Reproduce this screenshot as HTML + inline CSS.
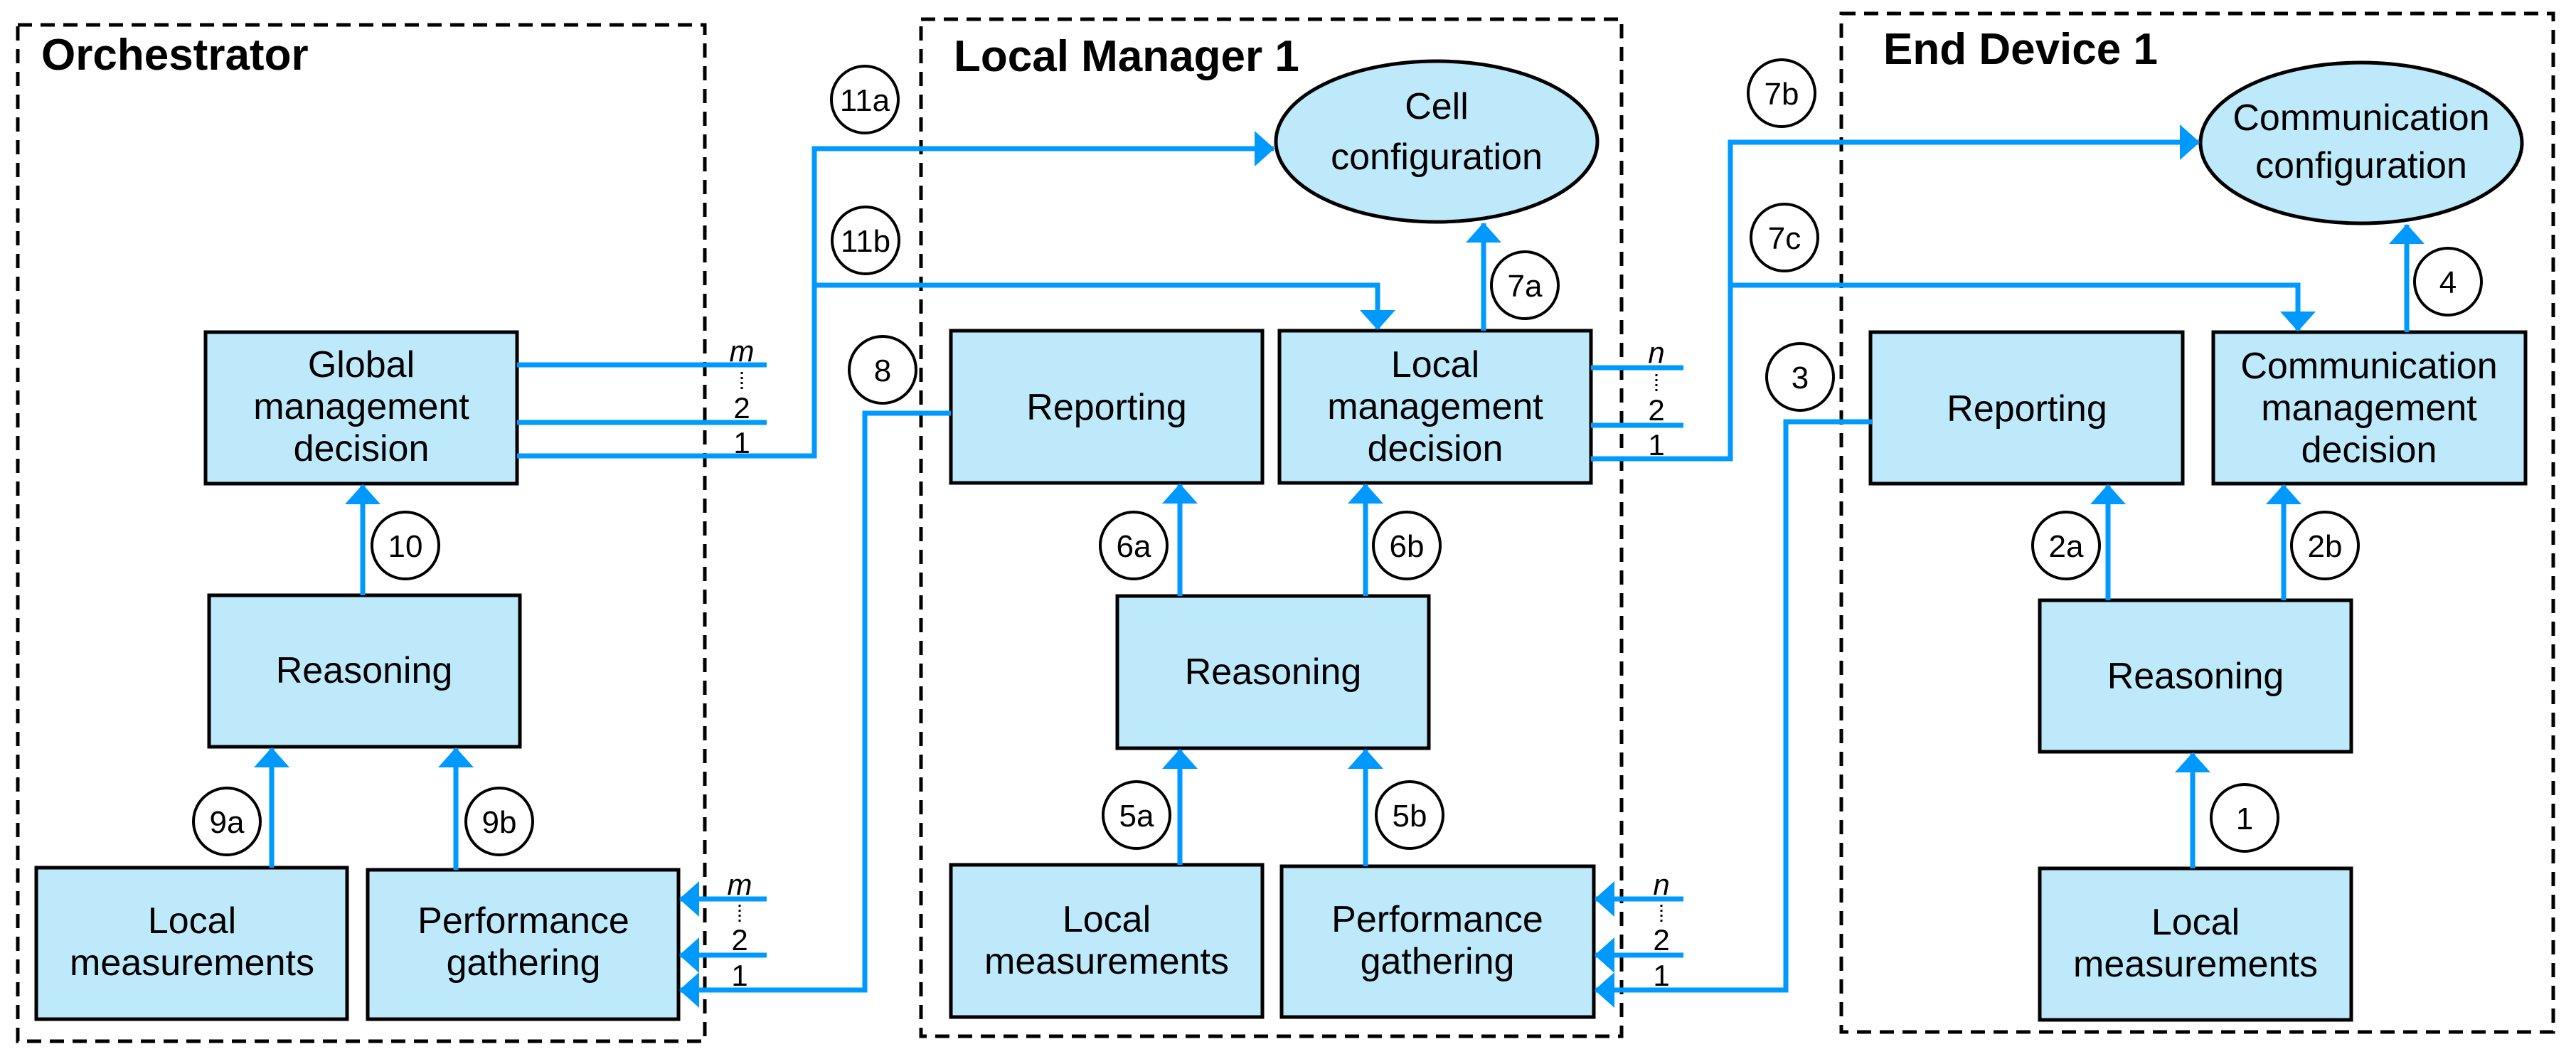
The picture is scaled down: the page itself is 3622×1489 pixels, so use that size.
<!DOCTYPE html>
<html><head><meta charset="utf-8"><style>
html,body{margin:0;padding:0;background:#fff;}
svg{display:block;}
text{font-family:"Liberation Sans",sans-serif;}
.box{fill:#bde9fb;stroke:#000;stroke-width:5;}
.dash{fill:none;stroke:#000;stroke-width:5;stroke-dasharray:20 12;}
.bl{fill:none;stroke:#0099ff;stroke-width:7;}
.c{fill:#fff;stroke:#000;stroke-width:4;}
.bt{font-size:52px;text-anchor:middle;fill:#000;}
.ct{font-size:44px;text-anchor:middle;fill:#000;}
.lb{font-size:42px;text-anchor:middle;fill:#000;}
.ti{font-size:62px;font-weight:bold;fill:#000;}
</style></head><body>
<svg width="3622" height="1489" viewBox="0 0 3622 1489" xmlns="http://www.w3.org/2000/svg">
<defs>
<marker id="a" viewBox="0 0 28 50" refX="27" refY="25" markerWidth="28" markerHeight="50" orient="auto" markerUnits="userSpaceOnUse">
<path d="M0,0 L28,25 L0,50 Z" fill="#0099ff"/></marker>
</defs>

<!-- dashed containers -->
<rect class="dash" x="25" y="35" width="966" height="1429"/>
<rect class="dash" x="1295" y="27" width="985" height="1430"/>
<rect class="dash" x="2589" y="19" width="1001" height="1432"/>
<text class="ti" x="58" y="98">Orchestrator</text>
<text class="ti" x="1341" y="100">Local Manager 1</text>
<text class="ti" x="2648" y="90">End Device 1</text>

<!-- Orchestrator boxes -->
<rect class="box" x="289" y="467" width="438" height="213"/>
<text class="bt" x="508" y="530">Global</text>
<text class="bt" x="508" y="589">management</text>
<text class="bt" x="508" y="648">decision</text>
<rect class="box" x="294" y="837" width="437" height="213"/>
<text class="bt" x="512" y="960">Reasoning</text>
<rect class="box" x="51" y="1220" width="437" height="213"/>
<text class="bt" x="270" y="1312">Local</text>
<text class="bt" x="270" y="1371">measurements</text>
<rect class="box" x="517" y="1223" width="437" height="210"/>
<text class="bt" x="736" y="1312">Performance</text>
<text class="bt" x="736" y="1371">gathering</text>

<!-- Local Manager boxes -->
<ellipse class="box" cx="2020" cy="199" rx="226" ry="113"/>
<text class="bt" x="2020" y="167">Cell</text>
<text class="bt" x="2020" y="238">configuration</text>
<rect class="box" x="1337" y="465" width="438" height="214"/>
<text class="bt" x="1556" y="590">Reporting</text>
<rect class="box" x="1799" y="465" width="438" height="214"/>
<text class="bt" x="2018" y="530">Local</text>
<text class="bt" x="2018" y="589">management</text>
<text class="bt" x="2018" y="648">decision</text>
<rect class="box" x="1571" y="838" width="438" height="214"/>
<text class="bt" x="1790" y="962">Reasoning</text>
<rect class="box" x="1337" y="1216" width="438" height="214"/>
<text class="bt" x="1556" y="1310">Local</text>
<text class="bt" x="1556" y="1369">measurements</text>
<rect class="box" x="1802" y="1218" width="439" height="212"/>
<text class="bt" x="2021" y="1310">Performance</text>
<text class="bt" x="2021" y="1369">gathering</text>

<!-- End Device boxes -->
<ellipse class="box" cx="3320" cy="201" rx="226" ry="113"/>
<text class="bt" x="3320" y="183">Communication</text>
<text class="bt" x="3320" y="250">configuration</text>
<rect class="box" x="2630" y="467" width="439" height="213"/>
<text class="bt" x="2850" y="592">Reporting</text>
<rect class="box" x="3112" y="467" width="439" height="213"/>
<text class="bt" x="3331" y="532">Communication</text>
<text class="bt" x="3331" y="591">management</text>
<text class="bt" x="3331" y="650">decision</text>
<rect class="box" x="2868" y="844" width="438" height="213"/>
<text class="bt" x="3087" y="968">Reasoning</text>
<rect class="box" x="2868" y="1221" width="438" height="213"/>
<text class="bt" x="3087" y="1314">Local</text>
<text class="bt" x="3087" y="1373">measurements</text>

<!-- vertical internal arrows -->
<g class="bl">
<line x1="510" y1="837" x2="510" y2="682" marker-end="url(#a)"/>
<line x1="382" y1="1220" x2="382" y2="1052" marker-end="url(#a)"/>
<line x1="641" y1="1223" x2="641" y2="1052" marker-end="url(#a)"/>
<line x1="2086" y1="465" x2="2086" y2="314" marker-end="url(#a)"/>
<line x1="1659" y1="838" x2="1659" y2="681" marker-end="url(#a)"/>
<line x1="1920" y1="838" x2="1920" y2="681" marker-end="url(#a)"/>
<line x1="1659" y1="1216" x2="1659" y2="1054" marker-end="url(#a)"/>
<line x1="1920" y1="1218" x2="1920" y2="1054" marker-end="url(#a)"/>
<line x1="3384" y1="467" x2="3384" y2="316" marker-end="url(#a)"/>
<line x1="2964" y1="844" x2="2964" y2="682" marker-end="url(#a)"/>
<line x1="3211" y1="844" x2="3211" y2="682" marker-end="url(#a)"/>
<line x1="3083" y1="1221" x2="3083" y2="1059" marker-end="url(#a)"/>

<!-- orchestrator outputs -->
<line x1="727" y1="513" x2="1078" y2="513"/>
<line x1="727" y1="594" x2="1078" y2="594"/>
<polyline points="727,641 1145,641 1145,209 1791,209" marker-end="url(#a)"/>
<polyline points="1145,401 1937,401 1937,463" marker-end="url(#a)"/>
<!-- orchestrator inputs -->
<line x1="1078" y1="1264" x2="956" y2="1264" marker-end="url(#a)"/>
<line x1="1078" y1="1343" x2="956" y2="1343" marker-end="url(#a)"/>
<polyline points="1337,581 1216,581 1216,1392 956,1392" marker-end="url(#a)"/>

<!-- LM outputs -->
<line x1="2237" y1="517" x2="2367" y2="517"/>
<line x1="2237" y1="598" x2="2367" y2="598"/>
<polyline points="2237,645 2433,645 2433,200 3092,200" marker-end="url(#a)"/>
<polyline points="2433,401 3231,401 3231,465" marker-end="url(#a)"/>
<!-- LM inputs -->
<line x1="2367" y1="1264" x2="2243" y2="1264" marker-end="url(#a)"/>
<line x1="2367" y1="1343" x2="2243" y2="1343" marker-end="url(#a)"/>
<polyline points="2632,593 2511,593 2511,1392 2243,1392" marker-end="url(#a)"/>
</g>

<!-- m/n labels -->
<g>
<text class="lb" x="1043" y="508" style="font-style:italic">m</text>
<line x1="1043" y1="523" x2="1043" y2="548" stroke="#000" stroke-width="3" stroke-dasharray="3 4"/>
<text class="lb" x="1043" y="588">2</text>
<text class="lb" x="1043" y="637">1</text>
<text class="lb" x="1040" y="1258" style="font-style:italic">m</text>
<line x1="1040" y1="1272" x2="1040" y2="1297" stroke="#000" stroke-width="3" stroke-dasharray="3 4"/>
<text class="lb" x="1040" y="1336">2</text>
<text class="lb" x="1040" y="1386">1</text>
<text class="lb" x="2329" y="510" style="font-style:italic">n</text>
<line x1="2329" y1="526" x2="2329" y2="551" stroke="#000" stroke-width="3" stroke-dasharray="3 4"/>
<text class="lb" x="2329" y="591">2</text>
<text class="lb" x="2329" y="640">1</text>
<text class="lb" x="2336" y="1258" style="font-style:italic">n</text>
<line x1="2336" y1="1272" x2="2336" y2="1297" stroke="#000" stroke-width="3" stroke-dasharray="3 4"/>
<text class="lb" x="2336" y="1336">2</text>
<text class="lb" x="2336" y="1386">1</text>
</g>

<!-- circles -->
<g>
<ellipse class="c" cx="570" cy="767" rx="47" ry="47"/><text class="ct" x="570" y="783">10</text>
<ellipse class="c" cx="319" cy="1155" rx="47" ry="47"/><text class="ct" x="319" y="1171">9a</text>
<ellipse class="c" cx="702" cy="1155" rx="47" ry="47"/><text class="ct" x="702" y="1171">9b</text>
<ellipse class="c" cx="1216" cy="140" rx="47" ry="47"/><text class="ct" x="1216" y="156">11a</text>
<ellipse class="c" cx="1217" cy="338" rx="47" ry="47"/><text class="ct" x="1217" y="354">11b</text>
<ellipse class="c" cx="1241" cy="520" rx="47" ry="47"/><text class="ct" x="1241" y="536">8</text>
<ellipse class="c" cx="2144" cy="401" rx="47" ry="47"/><text class="ct" x="2144" y="417">7a</text>
<ellipse class="c" cx="1594" cy="767" rx="47" ry="47"/><text class="ct" x="1594" y="783">6a</text>
<ellipse class="c" cx="1978" cy="767" rx="47" ry="47"/><text class="ct" x="1978" y="783">6b</text>
<ellipse class="c" cx="1598" cy="1146" rx="47" ry="47"/><text class="ct" x="1598" y="1162">5a</text>
<ellipse class="c" cx="1982" cy="1146" rx="47" ry="47"/><text class="ct" x="1982" y="1162">5b</text>
<ellipse class="c" cx="2505" cy="131" rx="47" ry="47"/><text class="ct" x="2505" y="147">7b</text>
<ellipse class="c" cx="2509" cy="334" rx="47" ry="47"/><text class="ct" x="2509" y="350">7c</text>
<ellipse class="c" cx="2531" cy="530" rx="47" ry="47"/><text class="ct" x="2531" y="546">3</text>
<ellipse class="c" cx="3442" cy="396" rx="47" ry="47"/><text class="ct" x="3442" y="412">4</text>
<ellipse class="c" cx="2905" cy="767" rx="47" ry="47"/><text class="ct" x="2905" y="783">2a</text>
<ellipse class="c" cx="3269" cy="767" rx="47" ry="47"/><text class="ct" x="3269" y="783">2b</text>
<ellipse class="c" cx="3156" cy="1150" rx="47" ry="47"/><text class="ct" x="3156" y="1166">1</text>
</g>
</svg>
</body></html>
